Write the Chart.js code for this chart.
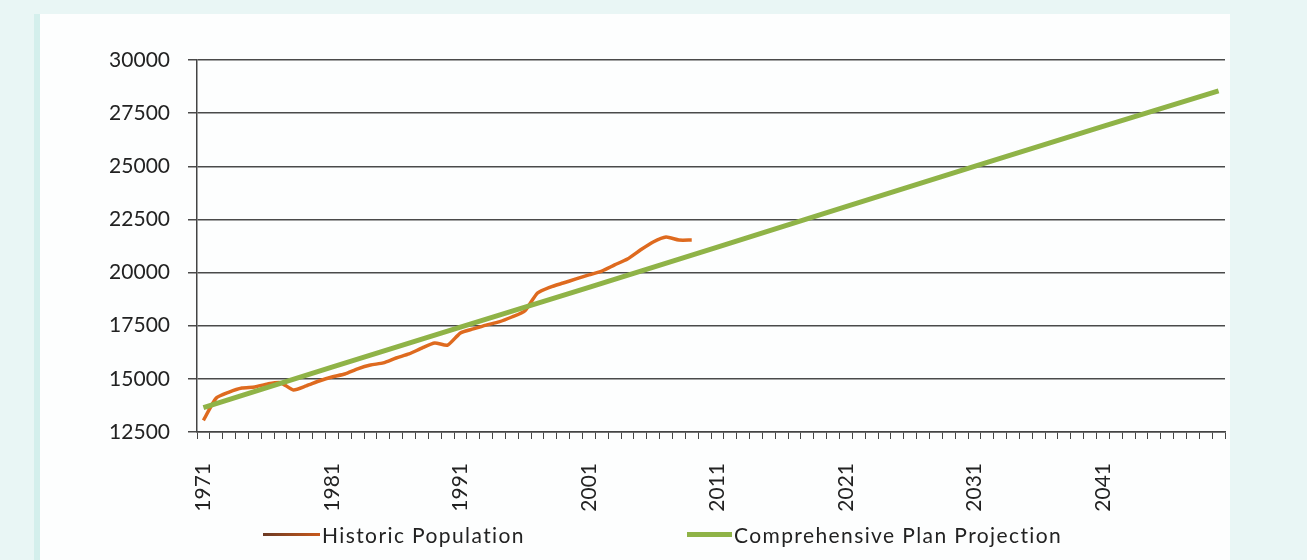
<!DOCTYPE html>
<html>
<head>
<meta charset="utf-8">
<script src="https://cdn.jsdelivr.net/npm/chart.js@4"></script>
<style>
  html, body { margin: 0; padding: 0; background: #e9f6f5; }
  #wrap { position: relative; width: 1307px; height: 560px; overflow: hidden; }
  #panel { position: absolute; left: 40px; top: 14px; width: 1190px; height: 546px; background: #fdfefe; }
  #edge { position: absolute; left: 34px; top: 14px; width: 6px; height: 546px; background: #d4efec; }
  #c { position: absolute; left: 0; top: 0; }
  #legend { position: absolute; left: 263px; top: 522px; display: flex; align-items: center;
            font-family: Lato, "Open Sans", sans-serif; font-size: 21px; color: #222; letter-spacing: 1.4px; }
  #legend .item { display: flex; align-items: center; }
  #legend .swatch { display: inline-block; margin-right: 2px; }
</style>
</head>
<body>
<div id="wrap">
  <div id="panel"></div>
  <div id="edge"></div>
  <canvas id="c" width="1307" height="560"></canvas>
  <div id="legend"></div>
</div>
<script>
// years on the x axis
const years = [];
for (let y = 1971; y <= 2050; y++) years.push(String(y));

// historic population, 1971 - 2009
const historicPopulation = [
  13050, 14100, 14380, 14570, 14620, 14760, 14820, 14480, 14670, 14900,
  15090, 15230, 15470, 15650, 15750, 15980, 16170, 16450, 16690, 16590,
  17160, 17350, 17530, 17680, 17910, 18190, 19040, 19320, 19510, 19700,
  19890, 20070, 20360, 20640, 21060, 21440, 21670, 21530, 21530
];

// comprehensive plan projection, read at decade points
const projectionYears = ['1971', '1981', '1991', '2001', '2011', '2021', '2031', '2041', '2050'];
const projectionValues = [13650, 15550, 17430, 19300, 21200, 23100, 25000, 26880, 28550];

const yTicks = [12500, 15000, 17500, 20000, 22500, 25000, 27500, 30000];

const FONT = 'Lato, "Open Sans", sans-serif';

const ctx = document.getElementById('c').getContext('2d');

const chart = new Chart(ctx, {
  type: 'line',
  data: {
    labels: years,
    datasets: [
      {
        label: 'Comprehensive Plan Projection',
        data: projectionYears.map((yr, i) => ({ x: yr, y: projectionValues[i] })),
        borderColor: '#8fb347',
        borderWidth: 5,
        pointRadius: 0,
        tension: 0
      },
      {
        label: 'Historic Population',
        data: historicPopulation,
        borderColor: '#de6a1f',
        borderWidth: 3.5,
        pointRadius: 0,
        tension: 0.2
      }
    ]
  },
  options: {
    responsive: false,
    animation: false,
    layout: { padding: { top: 60, right: 82, bottom: 42, left: 0 } },
    plugins: {
      tooltip: { enabled: false },
      legend: { display: false }
    },
    scales: {
      x: {
        offset: true,
        grid: { display: true, offset: true, drawOnChartArea: false, color: '#444', tickLength: 7, tickWidth: 1 },
        border: { color: '#444', width: 1.5 },
        ticks: {
          autoSkip: false,
          minRotation: 90,
          maxRotation: 90,
          padding: 24,
          color: '#222',
          font: { family: FONT, size: 21 },
          callback: function (val, idx) {
            return (idx % 10 === 0) ? years[idx] : '';
          }
        },
        afterFit: function (scale) { scale.height = 86; }
      },
      y: {
        min: 12500,
        max: 30000,
        afterBuildTicks: function (scale) {
          scale.ticks = yTicks.map(v => ({ value: v }));
        },
        grid: { color: '#4a4a4a', lineWidth: 1.5, tickLength: 9 },
        border: { color: '#444', width: 1.5 },
        ticks: {
          padding: 18,
          color: '#222',
          font: { family: FONT, size: 21 },
          callback: function (v) { return String(v); }
        },
        afterFit: function (scale) { scale.width = 197; }
      }
    }
  }
});

// legend: historic first, then projection
const legendEl = document.getElementById('legend');
const legendOrder = [1, 0];
const swatchWidths = [57, 45];
const swatchHeights = [3, 5];
const gaps = [162, 0];
legendOrder.forEach((di, k) => {
  const ds = chart.data.datasets[di];
  const item = document.createElement('span');
  item.className = 'item';
  item.style.marginRight = gaps[k] + 'px';
  const sw = document.createElement('span');
  sw.className = 'swatch';
  sw.style.width = swatchWidths[k] + 'px';
  sw.style.height = swatchHeights[k] + 'px';
  sw.style.background = di === 1 ? 'linear-gradient(to right, #6b3a24, #c8591c)' : ds.borderColor;
  const txt = document.createElement('span');
  txt.textContent = ds.label;
  item.appendChild(sw);
  item.appendChild(txt);
  legendEl.appendChild(item);
});
</script>
</body>
</html>
